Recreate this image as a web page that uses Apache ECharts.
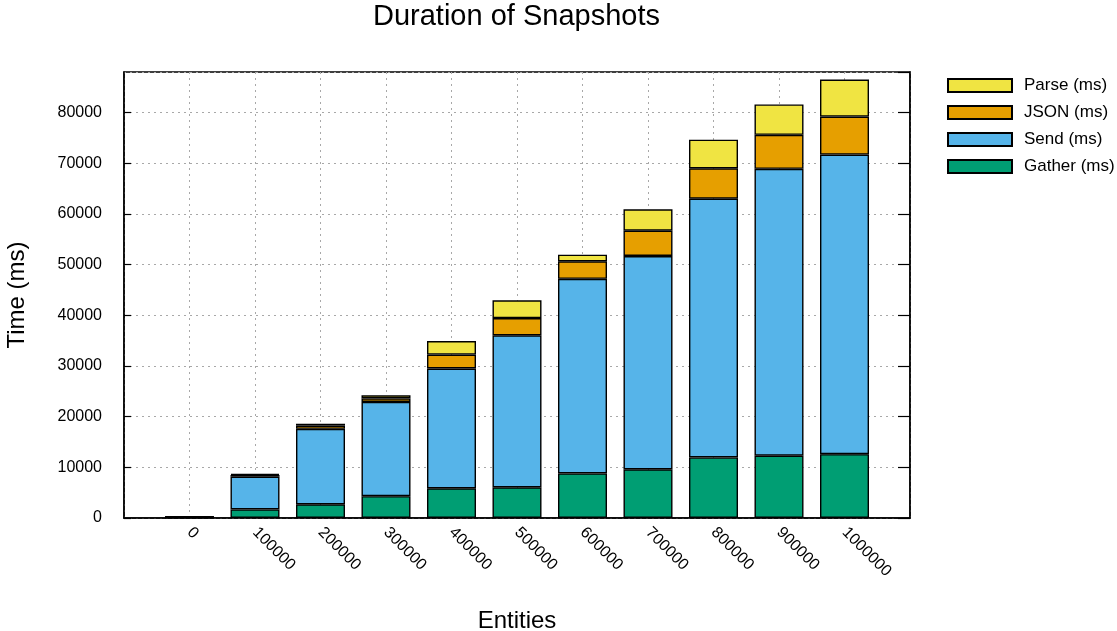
<!DOCTYPE html>
<html>
<head>
<meta charset="utf-8">
<script src="https://cdn.jsdelivr.net/npm/echarts@6/dist/echarts.min.js"></script>
<style>
  html, body { margin: 0; padding: 0; background: #fff; }
  #chart { width: 1117px; height: 631px; }
</style>
</head>
<body>
<div id="chart"></div>
<script>
// Number of entities per snapshot run
const entities = [0, 100000, 200000, 300000, 400000, 500000, 600000, 700000, 800000, 900000, 1000000];

// Time spent in each phase (ms), stacked bottom to top
const gatherMs = [50, 1700, 2700, 4300, 5850, 6050, 8800, 9600, 11950, 12300, 12600];
const sendMs   = [150, 6450, 14900, 18600, 23650, 30000, 38400, 42100, 51050, 56600, 59100];
const jsonMs   = [50, 350, 650, 700, 2750, 3400, 3450, 5000, 6000, 6700, 7500];
const parseMs  = [50, 200, 350, 600, 2650, 3500, 1300, 4200, 5650, 6000, 7300];

const seriesNames = ['Gather (ms)', 'Send (ms)', 'JSON (ms)', 'Parse (ms)'];
const seriesColors = ['#009e73', '#56b4e9', '#e69f00', '#f0e442'];
const yTickValues = [0, 10000, 20000, 30000, 40000, 50000, 60000, 70000, 80000];

// Pad the category axis with one empty slot on each side so the
// bars sit a full category away from the frame.
const categories = [''].concat(entities.map(String), ['']);
const pad = (arr) => [null].concat(arr, [null]);

const FONT = 'Liberation Sans, Arial, sans-serif';
const gridLine = { show: true, lineStyle: { color: '#a8a8a8', width: 1, type: [2, 4] } };

const chart = echarts.init(document.getElementById('chart'), null, { renderer: 'canvas' });

const series = [gatherMs, sendMs, jsonMs, parseMs].map((vals, i) => ({
  name: seriesNames[i],
  type: 'bar',
  stack: 'total',
  barWidth: 49,
  data: pad(vals),
  itemStyle: { color: seriesColors[i], borderColor: '#000', borderWidth: 1.4 },
  emphasis: { disabled: true }
}));

chart.setOption({
  animation: false,
  textStyle: { fontFamily: FONT },
  title: {
    text: 'Duration of Snapshots',
    left: 373,
    top: 2,
    padding: 0,
    textStyle: { fontFamily: FONT, fontSize: 29, fontWeight: 'normal', color: '#000' }
  },
  legend: {
    data: ['Parse (ms)', 'JSON (ms)', 'Send (ms)', 'Gather (ms)'],
    orient: 'vertical',
    left: 947,
    top: 77,
    padding: 0,
    itemWidth: 64,
    itemHeight: 13,
    itemGap: 10,
    icon: 'rect',
    selectedMode: false,
    textStyle: { fontFamily: FONT, fontSize: 17, color: '#000', padding: [0, 0, 0, 7] }
  },
  grid: {
    left: 124, right: 207, top: 72, bottom: 113,
    show: true, borderColor: '#000', borderWidth: 1.5,
    containLabel: false,
    outerBoundsMode: 'none'
  },
  xAxis: {
    type: 'category',
    data: categories,
    boundaryGap: false,
    name: 'Entities',
    nameLocation: 'middle',
    nameGap: 91,
    nameTextStyle: { fontFamily: FONT, fontSize: 24, color: '#000', verticalAlign: 'top' },
    axisLine: { show: true, lineStyle: { color: '#000', width: 1.5 } },
    axisTick: { show: false },
    axisLabel: { rotate: -45, interval: 0, margin: 12, fontFamily: FONT, fontSize: 16, color: '#000' },
    splitLine: Object.assign({ interval: 0 }, gridLine)
  },
  yAxis: [{
    type: 'value',
    min: 0,
    max: 88000,
    interval: 10000,
    name: 'Time (ms)',
    nameLocation: 'middle',
    nameGap: 95,
    nameTextStyle: { fontFamily: FONT, fontSize: 24, color: '#000' },
    axisLine: { show: true, lineStyle: { color: '#000', width: 1.5 } },
    axisTick: { show: true, inside: true, length: 7, lineStyle: { color: '#000', width: 1.2 } },
    axisLabel: {
      margin: 22, fontFamily: FONT, fontSize: 16, color: '#000', showMaxLabel: false,
      formatter: (v) => yTickValues.includes(v) ? String(v) : ''
    },
    splitLine: gridLine
  }, {
    type: 'value',
    position: 'right',
    min: 0,
    max: 88000,
    interval: 10000,
    axisLine: { show: true, lineStyle: { color: '#000', width: 1.5 } },
    axisTick: { show: true, inside: true, length: 12, lineStyle: { color: '#000', width: 1.2 } },
    axisLabel: { show: false },
    splitLine: { show: false }
  }],
  series: series
});
</script>
</body>
</html>
